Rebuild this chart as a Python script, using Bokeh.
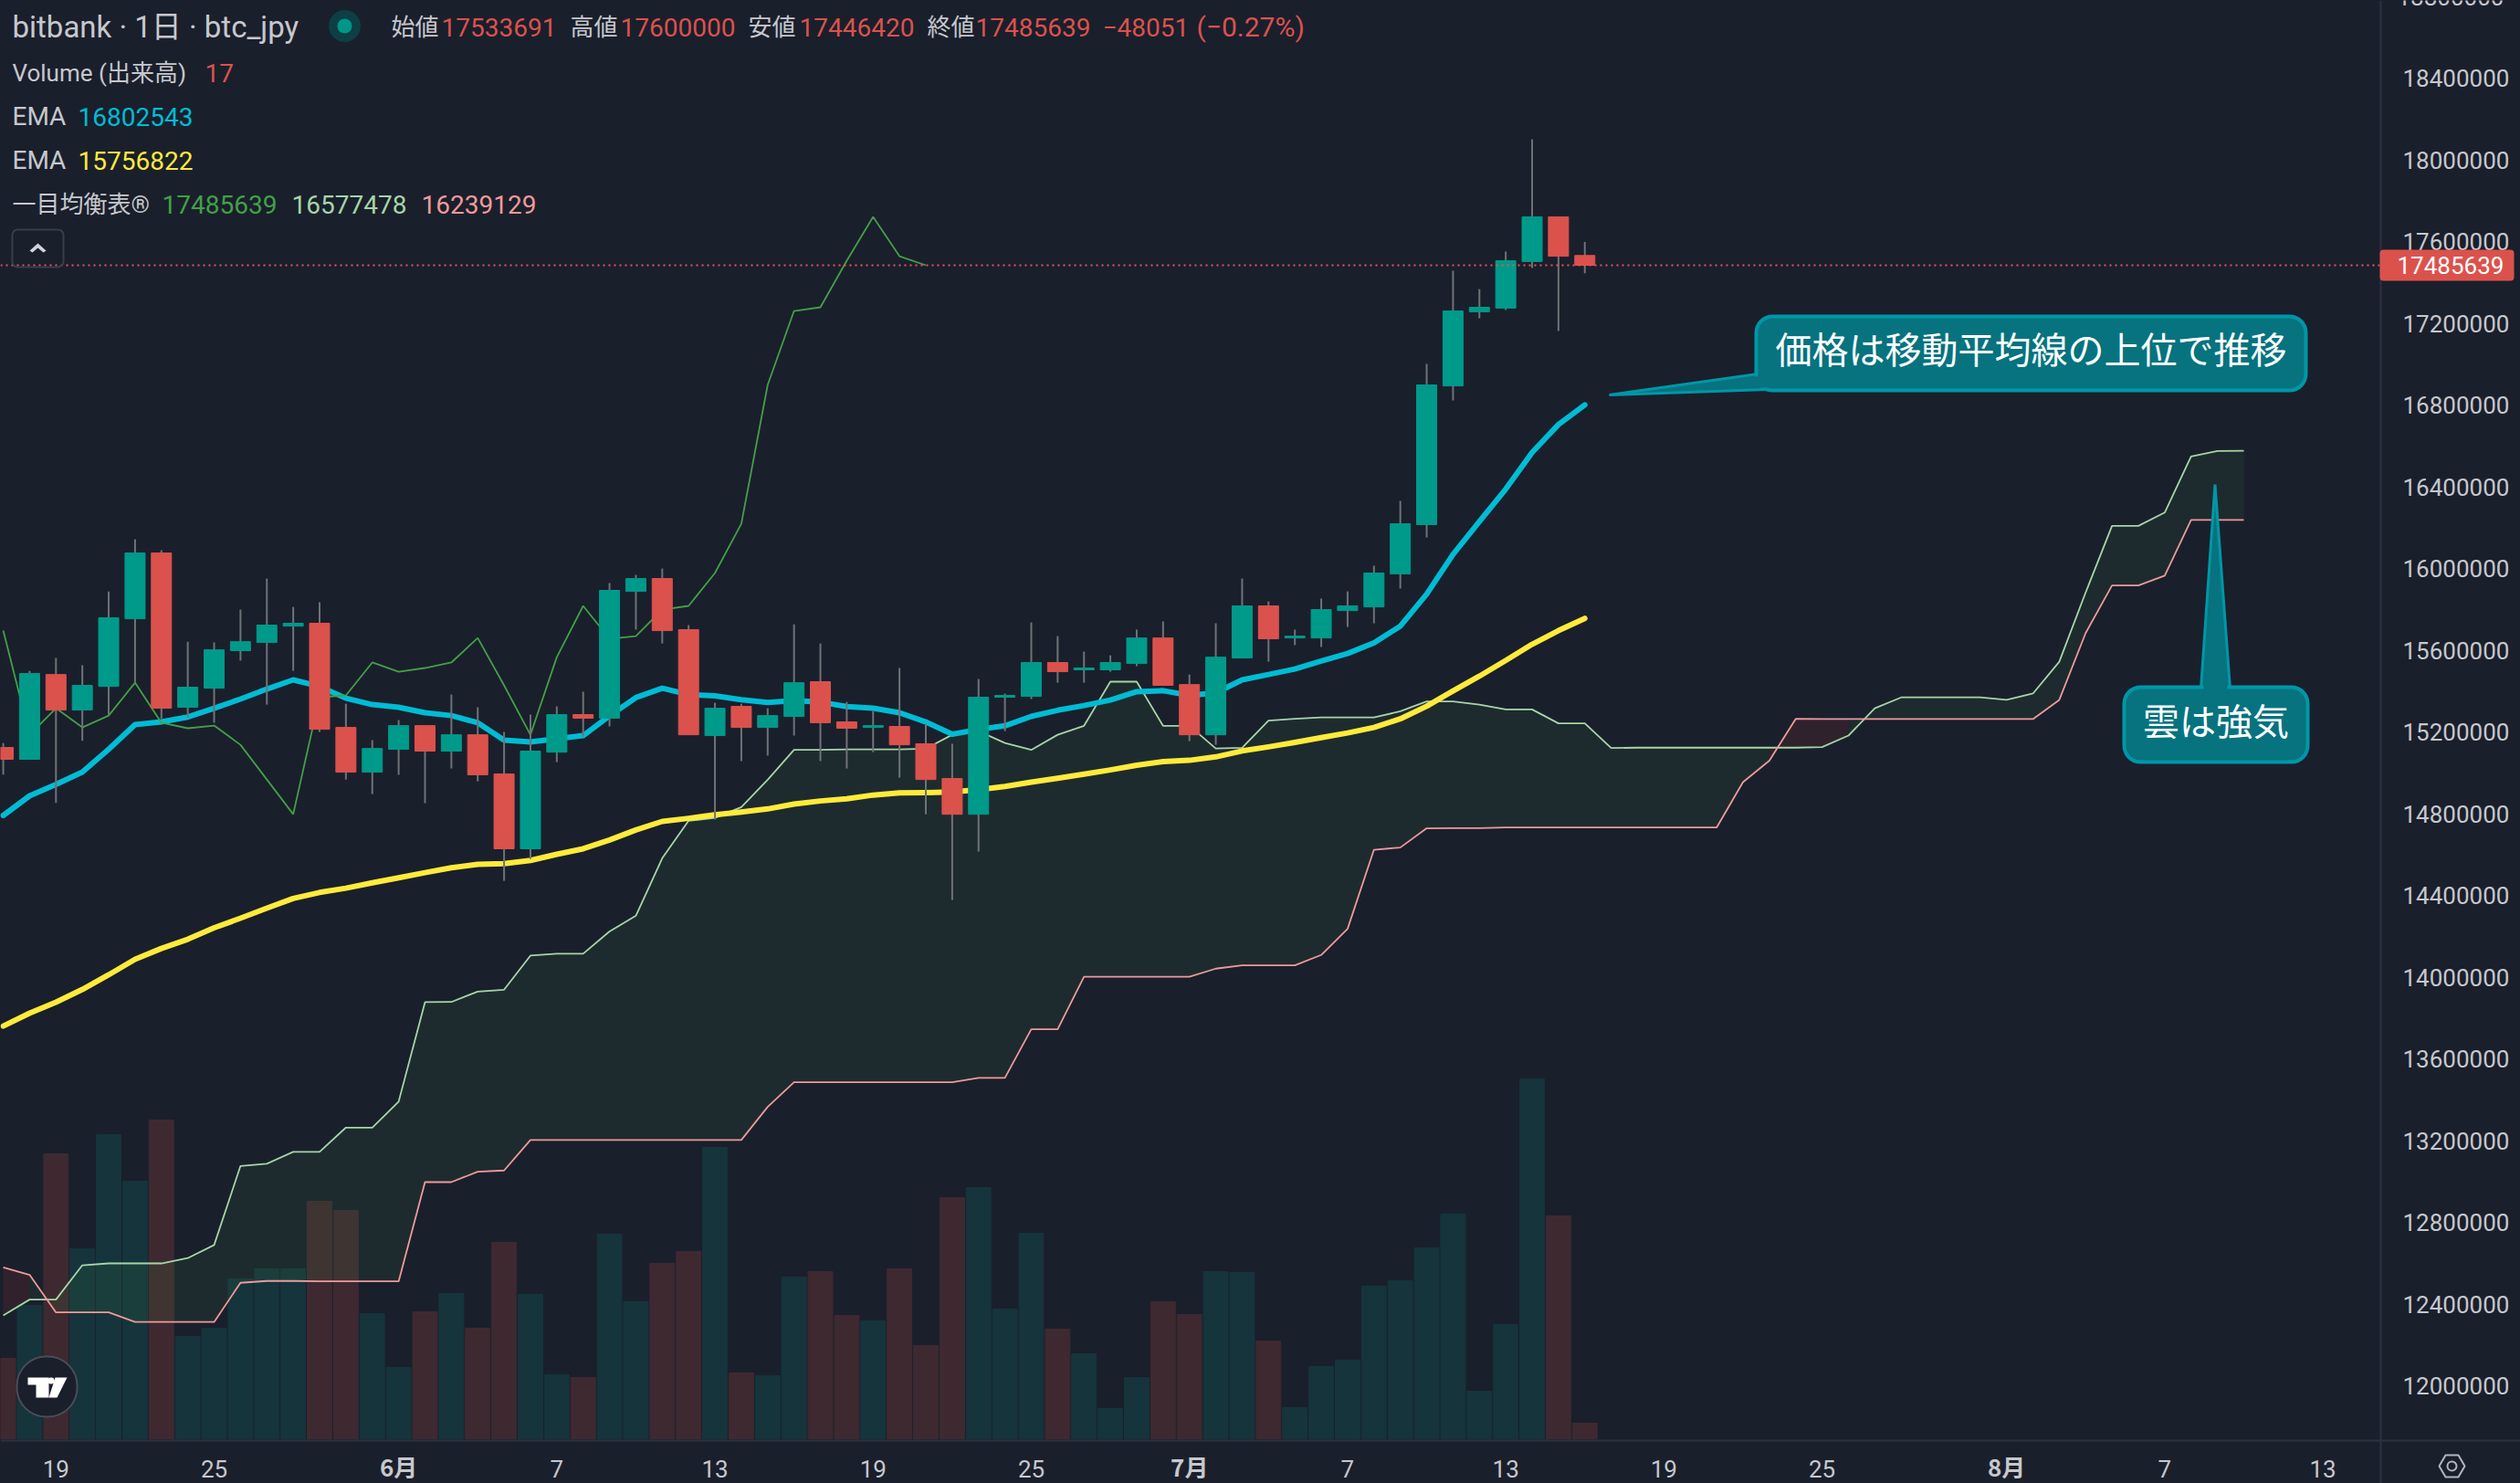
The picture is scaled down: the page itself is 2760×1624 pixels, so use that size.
import numpy as np
from bokeh.embed import file_html
from bokeh.models import (BoxAnnotation, ColumnDataSource, FixedTicker, GlobalInlineStyleSheet,
                          Label, LinearAxis, PolyAnnotation, Range1d)
from bokeh.plotting import figure
from bokeh.resources import INLINE

# all prices in thousand yen, day 0 is May 19, first bar is day -2
opens = [15125, 15067, 15482, 15308, 15424, 15755, 16077, 15322, 15415, 15599, 15639,
         15719, 15733, 15223, 15004, 15116, 15232, 15107, 15187, 14995, 14629, 15102,
         15286, 15268, 15889, 15952, 15702, 15183, 15326, 15223, 15277, 15447, 15250,
         15223, 15228, 15143, 14973, 14798, 15371, 15375, 15541, 15505, 15505, 15536,
         15661, 15433, 15187, 15563, 15818, 15661, 15661, 15795, 15813, 15975, 16216,
         16895, 17258, 17276, 17504, 17723, 17533.691]
highs = [15146, 15500, 15563, 15527, 15889, 16144, 16091, 15643, 15639, 15800, 15952,
         15813, 15836, 15339, 15161, 15259, 15232, 15384, 15322, 15201, 15286, 15326,
         15398, 15930, 15970, 16001, 15724, 15344, 15339, 15317, 15728, 15634, 15348,
         15304, 15514, 15241, 15143, 15460, 15389, 15737, 15670, 15594, 15576, 15702,
         15742, 15482, 15733, 15952, 15840, 15702, 15854, 15889, 16015, 16332, 17003,
         17459, 17369, 17553, 18103, 17723, 17600]
lows = [14992, 15067, 14854, 15158, 15280, 15444, 15265, 15272, 15246, 15550, 15335,
        15500, 15201, 14968, 14897, 14991, 14852, 15022, 14959, 14472, 14579, 15053,
        15178, 15228, 15702, 15634, 15187, 14772, 15058, 15085, 15183, 15058, 15022,
        15102, 14977, 14798, 14378, 14615, 15205, 15362, 15442, 15442, 15496, 15523,
        15429, 15156, 15138, 15563, 15545, 15626, 15617, 15715, 15733, 15903, 16153,
        16824, 17226, 17267, 17472, 17164, 17446.42]
closes = [15067, 15487, 15308, 15429, 15760, 16077, 15317, 15420, 15603, 15643, 15724,
          15733, 15214, 15004, 15120, 15232, 15107, 15187, 14991, 14629, 15107, 15286,
          15268, 15894, 15952, 15697, 15187, 15317, 15223, 15281, 15442, 15246, 15219,
          15232, 15138, 14968, 14798, 15371, 15380, 15541, 15496, 15514, 15541, 15661,
          15429, 15187, 15567, 15818, 15657, 15670, 15800, 15818, 15979, 16220, 16900,
          17262, 17280, 17508, 17723, 17530, 17485.639]
volumes = [88, 146, 312, 208, 333, 282, 349, 112, 121, 175, 186, 186, 260, 250, 137, 78,
           139, 159, 121, 215, 158, 70, 67, 224, 150, 192, 205, 319, 72, 69, 177, 183,
           135, 129, 186, 102, 264, 275, 142, 225, 120, 93, 33, 67, 150, 136, 183, 182,
           107, 34, 79, 86, 167, 173, 209, 246, 52, 125, 394, 244, 17]
ema_fast = [14792, 14888, 14944, 15004, 15116, 15237, 15250, 15274, 15317, 15362, 15411,
            15456, 15424, 15366, 15335, 15322, 15295, 15281, 15246, 15161, 15152, 15168,
            15183, 15280, 15369, 15415, 15384, 15378, 15359, 15345, 15354, 15347, 15325,
            15317, 15295, 15250, 15190, 15213, 15231, 15277, 15307, 15330, 15357, 15398,
            15403, 15380, 15392, 15456, 15482, 15509, 15548, 15585, 15637, 15719, 15876,
            16070, 16231, 16390, 16569, 16706, 16802.543]
ema_slow = [13761, 13824, 13878, 13940, 14012, 14088, 14141, 14186, 14242, 14289, 14338,
            14386, 14415, 14436, 14462, 14487, 14512, 14536, 14553, 14556, 14572, 14602,
            14629, 14672, 14721, 14763, 14778, 14795, 14809, 14824, 14848, 14863, 14874,
            14892, 14903, 14904, 14907, 14918, 14934, 14955, 14974, 14994, 15015, 15038,
            15056, 15062, 15079, 15108, 15128, 15150, 15173, 15196, 15223, 15265, 15327,
            15402, 15474, 15551, 15630, 15697, 15756.822]
# leading spans run 25 days past the last bar
span_a = [12344, 12422, 12422, 12590, 12599, 12599, 12599, 12625, 12689, 13076, 13087,
          13145, 13145, 13264, 13264, 13391, 13878, 13879, 13930, 13939, 14106, 14115,
          14115, 14224, 14301, 14583, 14766, 14780, 14833, 14967, 15113, 15113, 15116,
          15116, 15116, 15119, 15187, 15205, 15147, 15113, 15187, 15231, 15447, 15447,
          15231, 15231, 15120, 15123, 15256, 15265, 15272, 15272, 15272, 15302, 15350,
          15350, 15335, 15311, 15311, 15243, 15243, 15122, 15124, 15124, 15124, 15124,
          15124, 15124, 15124, 15127, 15183, 15317, 15370, 15370, 15370, 15370, 15358,
          15389, 15545, 15884, 16210, 16210, 16275, 16550, 16576, 16577.478]
span_b = [12580, 12543, 12359, 12359, 12359, 12312, 12312, 12312, 12312, 12504, 12513,
          12513, 12511, 12511, 12511, 12511, 12997, 12997, 13048, 13054, 13203, 13203,
          13203, 13203, 13203, 13203, 13203, 13203, 13203, 13365, 13486, 13486, 13486,
          13486, 13486, 13486, 13486, 13507, 13507, 13745, 13745, 14002, 14002, 14002,
          14002, 14002, 14042, 14058, 14058, 14058, 14109, 14237, 14624, 14635, 14729,
          14730, 14730, 14733, 14733, 14733, 14733, 14733, 14733, 14733, 14733, 14733,
          14955, 15060, 15265, 15264, 15264, 15264, 15264, 15264, 15264, 15264, 15264,
          15264, 15358, 15685, 15918, 15918, 15966, 16239, 16239, 16239.129]

price_ticks = [12000000 + 400000 * k for k in range(17)]
day_ticks = [0, 6, 19, 25, 31, 37, 49, 55, 61, 67, 80, 86]
day_labels = ["19", "25", "7", "13", "19", "25", "7", "13", "19", "25", "7", "13"]
month_ticks = [13, 43, 74]
month_labels = ["6月", "7月", "8月"]
last_price = 17485639

BG = "#1a1f2c"
UP = "#009a8a"
DOWN = "#db524c"
WICK = "#6f7376"
TEXT = "#c6c8cc"
SEP = "#2e3240"
TEAL = "#06737f"
TEAL_EDGE = "#0097a7"
FONT = "Roboto, 'Noto Sans CJK JP'"
CJK = "'Noto Sans CJK JP', Roboto"

# file_html pages have no body margin, so picture pixels are figure pixels
W, H = 2760, 1624
SEP_X, SEP_Y = 2607, 1577


def sy(y):
    return H - y


def day_at(x):
    return (x - 60.8) / 28.87


def price_at(y):
    return 12000000 + (1517 - y) * 4470.8


days = np.arange(len(opens)) - 2
o, h, l, c = [np.array(a) * 1000 for a in (opens, highs, lows, closes)]
a_days = np.arange(len(span_a)) - 2
a_vals, b_vals = np.array(span_a) * 1000, np.array(span_b) * 1000

# the frame fills the whole page since annotations get clipped to it,
# the axes are pinned inside with fixed_location and take no panel space
p = figure(width=W, height=H, output_backend="svg", toolbar_location=None,
           x_range=Range1d(day_at(0), day_at(W)),
           y_range=Range1d(price_at(H), price_at(0)),
           x_axis_type=None, y_axis_type=None,
           background_fill_color=BG, border_fill_color=BG, outline_line_color=None,
           min_border=0)
p.stylesheets = [GlobalInlineStyleSheet(css="html, body { background: %s; }" % BG)]
p.grid.visible = False
p.extra_y_ranges["vol"] = Range1d(1575 - H, 1575)

xaxis = LinearAxis(ticker=FixedTicker(ticks=day_ticks), fixed_location=price_at(SEP_Y),
                   major_label_overrides=dict(zip(day_ticks, day_labels)))
yaxis = LinearAxis(ticker=FixedTicker(ticks=price_ticks), fixed_location=day_at(SEP_X))
yaxis.formatter.use_scientific = False
for ax in (xaxis, yaxis):
    ax.axis_line_color = None
    ax.major_tick_line_color = None
    ax.minor_tick_line_color = None
    ax.major_label_text_color = TEXT
    ax.major_label_text_font = FONT
    ax.major_label_text_font_size = "26px"
xaxis.major_label_standoff = 15
yaxis.major_label_standoff = 18
p.add_layout(xaxis, "below")
p.add_layout(yaxis, "right")

# volume sits underneath everything
up = c >= o
bars = ColumnDataSource(dict(x=days, top=volumes,
                             vcolor=["#16343c" if u else "#3e2930" for u in up]))
p.vbar(x="x", top="top", bottom=0, width=0.935, color="vcolor", source=bars, y_range_name="vol")

# cloud, colored by which span leads at the end of each segment
leads = a_vals >= b_vals
start = 0
for k in range(1, len(a_days)):
    if k == len(a_days) - 1 or leads[k + 1] != leads[k]:
        fill = "#43a047" if leads[k] else "#f44336"
        p.varea(a_days[start:k + 1], a_vals[start:k + 1], b_vals[start:k + 1],
                fill_color=fill, fill_alpha=0.1)
        start = k
p.line(a_days, a_vals, line_color="#a5d6a7", line_width=1.8)
p.line(a_days, b_vals, line_color="#ef9a9a", line_width=1.8)

p.line(days, np.array(ema_slow) * 1000, line_color="#ffeb3b", line_width=6,
       line_join="round", line_cap="round")
p.line(days, np.array(ema_fast) * 1000, line_color="#00bcd4", line_width=6,
       line_join="round", line_cap="round")
# lagging span is the close drawn 25 days back
p.line(days[:-25], c[25:], line_color="#43a047", line_width=1.8)

p.segment(days, h, days, l, line_color=WICK, line_width=2)
p.vbar(days, width=0.762, top=np.maximum(o, c), bottom=np.minimum(o, c),
       color=[UP if u else DOWN for u in up])

# last price line stops at the price scale
p.line([day_at(0), day_at(SEP_X)], [last_price, last_price], line_color="#ef5350",
       line_width=2, line_dash=[2, 4])


def text(x, y, s, color=TEXT, size=28, font=FONT, align="left", style="normal", x_units="screen"):
    p.add_layout(Label(x=x, y=sy(y), x_units=x_units, y_units="screen", text=s, text_color=color,
                       text_font=font, text_font_size="%dpx" % size, text_font_style=style,
                       text_align=align, text_baseline="middle"))


def poly(pts, fill=None, line=None, width=2):
    p.add_layout(PolyAnnotation(xs=[a for a, b in pts], ys=[sy(b) for a, b in pts],
                                xs_units="screen", ys_units="screen",
                                fill_color=fill, fill_alpha=1 if fill else 0,
                                line_color=line, line_width=width, line_alpha=1 if line else 0))


def box(x0, x1, y0, y1, fill=None, line=None, width=2, radius=0):
    p.add_layout(BoxAnnotation(left=x0, right=x1, top=sy(y0), bottom=sy(y1),
                               left_units="screen", right_units="screen",
                               top_units="screen", bottom_units="screen",
                               fill_color=fill, fill_alpha=1 if fill else 0,
                               line_color=line, line_width=width, line_alpha=1 if line else 0,
                               border_radius=radius))


# price and time scale separators
poly([(SEP_X - 1, 0), (SEP_X + 1, 0), (SEP_X + 1, H), (SEP_X - 1, H)], fill=SEP)
poly([(0, SEP_Y - 1), (W, SEP_Y - 1), (W, SEP_Y + 1), (0, SEP_Y + 1)], fill=SEP)

# month ticks are bold in the time scale
for d, m in zip(month_ticks, month_labels):
    text(d, 1605, m, size=26, font=CJK, align="center", style="bold", x_units="data")

# top tick sits just off the picture
text(2625, -4, "18800000", size=26)

# last price tag
box(SEP_X - 1, 2753, 273, 307, fill=DOWN, radius=4)
text(2625, 290, "17485639", color="#ffffff", size=26)


# callouts, the box is drawn over the tail and the seam is then painted out
def callout(tail, seam, x0, x1, y0, y1, label):
    poly(tail, fill=TEAL, line=TEAL_EDGE, width=3)
    box(x0, x1, y0, y1, fill=TEAL, line=TEAL_EDGE, width=4, radius=18)
    poly(seam, fill=TEAL)
    text((x0 + x1) / 2, (y0 + y1) / 2 - 6, label, color="#ffffff", size=40, font=CJK, align="center")


callout([(1762, 432), (1925, 409), (1935, 426)],
        [(1900, 421), (1925, 411), (1940, 411), (1940, 424), (1925, 424)],
        1923, 2525, 346, 427, "価格は移動平均線の上位で推移")
callout([(2425.5, 530), (2410, 754), (2442, 754)],
        [(2413, 748), (2439, 748), (2439, 758), (2413, 758)],
        2326, 2527, 752, 834, "雲は強気")

# header and indicator legend
text(13, 29, "bitbank · 1日 · btc_jpy", size=33)
box(359.5, 394.5, 10.5, 45.5, fill="#0d3f45", radius=18)
box(369, 385, 20, 36, fill="#009688", radius=8)
for x, s, col, size in [(428, "始値", TEXT, 26), (483, "17533691", DOWN, 28),
                        (624, "高値", TEXT, 26), (679, "17600000", DOWN, 28),
                        (819, "安値", TEXT, 26), (875, "17446420", DOWN, 28),
                        (1015, "終値", TEXT, 26), (1068, "17485639", DOWN, 28),
                        (1207, "−48051", DOWN, 28), (1310, "(−0.27%)", DOWN, 30)]:
    text(x, 29, s, color=col, size=size)
text(13, 79, "Volume (出来高)", size=26)
text(224, 79, "17", color=DOWN)
text(13, 127, "EMA")
text(85, 127, "16802543", color="#00bcd4")
text(13, 175, "EMA")
text(85, 175, "15756822", color="#ffeb3b")
text(13, 223, "一目均衡表®", size=26)
text(177, 223, "17485639", color="#43a047")
text(319, 223, "16577478", color="#a5d6a7")
text(461, 223, "16239129", color="#ef9a9a")

# collapse button
box(13, 69, 251, 292, line="#3a3e4a", width=2, radius=6)
poly([(41, 266), (50, 274), (47, 276), (41, 271), (35, 276), (32, 274)], fill="#d1d4dc")

# logo badge
box(18, 84, 1485, 1551, fill=BG, line="#4a4d55", width=2, radius=32)
poly([(30, 1508), (53, 1508), (53, 1530), (39, 1530), (39, 1516), (30, 1516)], fill="#ffffff")
poly([(60, 1508), (73, 1508), (62, 1530), (53, 1530)], fill="#ffffff")
box(52, 59, 1508, 1515, fill="#ffffff", radius=3)

# settings icon
poly([(2671, 1605), (2678, 1593), (2692, 1593), (2699, 1605), (2692, 1617), (2678, 1617)],
     line="#b2b5be", width=2)
box(2680, 2690, 1600, 1610, line="#b2b5be", width=2, radius=5)

open("out.html", "w", encoding="utf-8").write(file_html(p, INLINE))
